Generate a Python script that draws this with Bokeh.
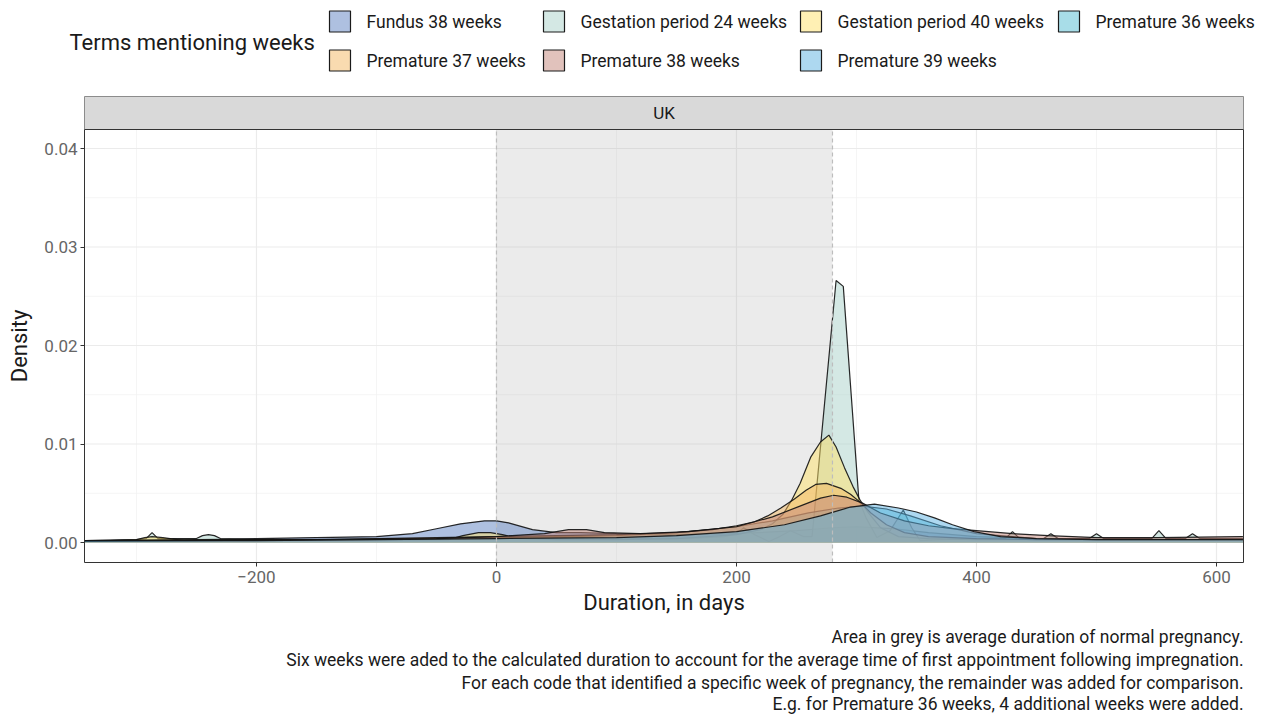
from bokeh.plotting import figure
from bokeh.models import Range1d, FixedTicker, NumeralTickFormatter
from bokeh.embed import file_html
from bokeh.resources import INLINE
from bokeh.core.properties import value

FONT = "Roboto"

# ---------------- data ----------------
legend_labels = ["Fundus 38 weeks", "Gestation period 24 weeks", "Gestation period 40 weeks",
                 "Premature 36 weeks", "Premature 37 weeks", "Premature 38 weeks", "Premature 39 weeks"]
fill_colors = ["#5D81C1", "#A9D1C9", "#FFE169", "#51BBD1", "#F3B761", "#C38579", "#5BB1E1"]

fundus_x = [-343, -300, -250, -200, -150, -100, -70, -50, -30, -10, 0, 10, 30, 50, 70, 100, 150, 200,
            250, 280, 300, 330, 360, 400, 450, 500, 550, 600, 622]
fundus_y = [0.0001, 0.0002, 0.0003, 0.0004, 0.0005, 0.0006, 0.0009, 0.0014, 0.0019, 0.0022, 0.0022,
            0.0020, 0.0013, 0.0010, 0.0010, 0.0009, 0.0008, 0.0009, 0.0012, 0.0015, 0.0016, 0.0014,
            0.0010, 0.0006, 0.0004, 0.0003, 0.0003, 0.0003, 0.0003]

gest24_x = [-343, -300, -292, -287, -282, -265, -250, -245, -240, -235, -230, -200, -150, -100, -50, 0,
            30, 50, 70, 90, 120, 160, 190, 200, 206, 215, 227, 236, 245, 256, 263, 283, 289, 302, 308,
            317, 328, 339, 346, 353, 370, 400, 424, 430, 436, 456, 462, 468, 494, 500, 506, 546, 552,
            558, 574, 580, 586, 622]
gest24_y = [0.0002, 0.0003, 0.0004, 0.0010, 0.0004, 0.0004, 0.0004, 0.0007, 0.0008, 0.0007, 0.0004,
            0.0003, 0.0003, 0.0003, 0.0004, 0.0005, 0.0004, 0.0005, 0.0006, 0.0005, 0.0004, 0.0004,
            0.0006, 0.0009, 0.0015, 0.0008, 0.0001, 0.0006, 0.0012, 0.0006, 0.0006, 0.0266, 0.0260,
            0.0043, 0.0025, 0.0005, 0.0012, 0.0033, 0.0015, 0.0002, 0.0003, 0.0004, 0.0004, 0.0011,
            0.0004, 0.0004, 0.0009, 0.0004, 0.0004, 0.0009, 0.0004, 0.0004, 0.0012, 0.0004, 0.0004,
            0.0009, 0.0004, 0.0004]

gest40_x = [-343, -300, -293, -287, -278, -260, -200, -100, -40, -28, -15, -5, 5, 20, 50, 100, 150, 200,
            220, 230, 239, 246, 253, 262, 270, 277, 283, 290, 297, 303, 310, 320, 335, 360, 400, 450,
            500, 550, 600, 622]
gest40_y = [0.0001, 0.0003, 0.0005, 0.0006, 0.0005, 0.0002, 0.0002, 0.0002, 0.0003, 0.0007, 0.0010,
            0.0010, 0.0008, 0.0004, 0.0003, 0.0003, 0.0004, 0.0008, 0.0013, 0.0019, 0.0029, 0.0043,
            0.0060, 0.0087, 0.0102, 0.0109, 0.0097, 0.0076, 0.0057, 0.0043, 0.0030, 0.0015, 0.0006,
            0.0004, 0.0003, 0.0003, 0.0003, 0.0003, 0.0003, 0.0003]

prem36_x = [-343, -200, -100, 0, 50, 100, 150, 200, 230, 260, 285, 305, 325, 345, 370, 400, 450, 500, 622]
prem36_y = [0.0002, 0.0002, 0.0003, 0.0005, 0.0006, 0.0007, 0.0010, 0.0016, 0.0022, 0.0030, 0.0035,
            0.0037, 0.0034, 0.0027, 0.0017, 0.0009, 0.0004, 0.0003, 0.0003]

prem37_x = [-343, -250, -150, -100, -50, 0, 50, 100, 150, 180, 200, 215, 226, 237, 248, 258, 266, 275,
            287, 295, 303, 312, 325, 340, 360, 400, 450, 500, 550, 622]
prem37_y = [0.0002, 0.0003, 0.0003, 0.0004, 0.0005, 0.0006, 0.0007, 0.0008, 0.0010, 0.0013, 0.0017,
            0.0021, 0.0027, 0.0035, 0.0044, 0.0053, 0.0059, 0.0060, 0.0055, 0.0049, 0.0041, 0.0030,
            0.0018, 0.0010, 0.0006, 0.0004, 0.0003, 0.0003, 0.0003, 0.0003]

prem38_x = [-343, -250, -150, -50, 0, 40, 60, 75, 90, 120, 160, 200, 230, 255, 270, 281, 292, 305, 320,
            340, 360, 380, 400, 430, 460, 500, 550, 622]
prem38_y = [0.0001, 0.0002, 0.0003, 0.0004, 0.0006, 0.0009, 0.0013, 0.0013, 0.0010, 0.0009, 0.0011,
            0.0016, 0.0026, 0.0038, 0.0045, 0.0048, 0.0046, 0.0040, 0.0030, 0.0022, 0.0017, 0.0014,
            0.0012, 0.0009, 0.0007, 0.0005, 0.0005, 0.0006]

prem39_x = [-343, -200, -100, 0, 100, 150, 200, 240, 270, 295, 315, 335, 350, 365, 380, 398, 420, 450,
            500, 622]
prem39_y = [0.0002, 0.0002, 0.0003, 0.0004, 0.0005, 0.0007, 0.0011, 0.0018, 0.0027, 0.0036, 0.0039,
            0.0035, 0.0031, 0.0025, 0.0018, 0.0011, 0.0006, 0.0004, 0.0003, 0.0003]

series_x = [fundus_x, gest24_x, gest40_x, prem36_x, prem37_x, prem38_x, prem39_x]
series_y = [fundus_y, gest24_y, gest40_y, prem36_y, prem37_y, prem38_y, prem39_y]

x_ticks = [-200, 0, 200, 400, 600]
x_minor = [-300, -100, 100, 300, 500]
y_ticks = [0.0, 0.01, 0.02, 0.03, 0.04]
y_minor = [0.005, 0.015, 0.025, 0.035]

x_lim = (-343.3, 622.5)        # plotted data limits (panel)
y_lim = (-0.00203, 0.04193)

grey_start, grey_end = 0, 280
facet_label = "UK"
legend_title = "Terms mentioning weeks"
x_title = "Duration, in days"
y_title = "Density"
caption_lines = [
    "Area in grey is average duration of normal pregnancy.",
    "Six weeks were aded to the calculated duration to account for the average time of first appointment following impregnation.",
    "For each code that identified a specific week of pregnancy, the remainder was added for comparison.",
    "E.g. for Premature 36 weeks, 4 additional weeks were added.",
]

# ---------------- canvas geometry (pixels) ----------------
W, H = 1264, 714
PL, PR, PT, PB = 84, 1243, 129, 562      # panel edges in pixels
ST = 96                                   # facet strip top

# data ranges chosen so the panel occupies PL..PR / PT..PB of a full-canvas frame
xs_per_px = (x_lim[1] - x_lim[0]) / (PR - PL)
ys_per_px = (y_lim[1] - y_lim[0]) / (PB - PT)
x_range = Range1d(x_lim[0] - PL * xs_per_px, x_lim[1] + (W - PR) * xs_per_px)
y_range = Range1d(y_lim[0] - (H - PB) * ys_per_px, y_lim[1] + PT * ys_per_px)

p = figure(width=W, height=H, output_backend="svg", toolbar_location=None,
           x_range=x_range, y_range=y_range, min_border=0)
p.extra_x_ranges = {"px": Range1d(0, W)}
p.extra_y_ranges = {"py": Range1d(H, 0)}
p.background_fill_color = "white"
p.border_fill_color = "white"
p.outline_line_color = None
p.grid.visible = False

# axes drawn at the panel edges
p.xaxis.fixed_location = y_lim[0]
p.yaxis.fixed_location = x_lim[0]
p.xaxis.bounds = x_lim
p.yaxis.bounds = y_lim
p.xaxis.ticker = FixedTicker(ticks=x_ticks)
p.yaxis.ticker = FixedTicker(ticks=y_ticks)
p.yaxis.formatter = NumeralTickFormatter(format="0.00")
for ax in [p.xaxis[0], p.yaxis[0]]:
    ax.axis_line_color = None
    ax.major_tick_line_color = "#333333"
    ax.major_tick_out = 4
    ax.major_tick_in = 0
    ax.minor_tick_line_color = None
    ax.major_label_text_font = FONT
    ax.major_label_text_font_size = "17px"
    ax.major_label_text_color = "#666666"
    ax.axis_label_text_font = FONT
    ax.axis_label_text_font_size = "22px"
    ax.axis_label_text_font_style = "normal"
    ax.axis_label_text_color = "#1A1A1A"
p.xaxis.axis_label = x_title
p.yaxis.axis_label = y_title
p.xaxis.major_label_standoff = 4
p.xaxis.axis_label_standoff = 4
p.yaxis.major_label_standoff = 3
p.yaxis.axis_label_standoff = 9

# grid lines (minor, then major)
p.segment(x0=x_minor, x1=x_minor, y0=[y_lim[0]] * len(x_minor), y1=[y_lim[1]] * len(x_minor),
          line_color="#F3F3F3", line_width=0.8)
p.segment(x0=[x_lim[0]] * len(y_minor), x1=[x_lim[1]] * len(y_minor), y0=y_minor, y1=y_minor,
          line_color="#F3F3F3", line_width=0.8)
p.segment(x0=x_ticks, x1=x_ticks, y0=[y_lim[0]] * len(x_ticks), y1=[y_lim[1]] * len(x_ticks),
          line_color="#EBEBEB", line_width=1.2)
p.segment(x0=[x_lim[0]] * len(y_ticks), x1=[x_lim[1]] * len(y_ticks), y0=y_ticks, y1=y_ticks,
          line_color="#EBEBEB", line_width=1.2)

# grey pregnancy area
p.quad(left=[grey_start], right=[grey_end], bottom=[y_lim[0]], top=[y_lim[1]],
       fill_color="#999999", fill_alpha=0.2, line_color=None)

# densities
for xs, ys, c in zip(series_x, series_y, fill_colors):
    p.varea(x=xs, y1=[0] * len(xs), y2=ys, fill_color=c, fill_alpha=0.5)
    p.line(x=xs, y=ys, line_color="#111111", line_width=1.2, line_alpha=0.9)

# dashed limits of the grey area
p.segment(x0=[grey_start, grey_end], x1=[grey_start, grey_end], y0=[y_lim[0]] * 2, y1=[y_lim[1]] * 2,
          line_color="#BDBDBD", line_dash="4 3", line_width=1.2)

# panel border
p.quad(left=[x_lim[0]], right=[x_lim[1]], bottom=[y_lim[0]], top=[y_lim[1]],
       fill_color=None, line_color="#333333", line_width=1)

# facet strip
p.quad(left=[PL], right=[PR], top=[ST], bottom=[PT], x_range_name="px", y_range_name="py",
       fill_color="#D9D9D9", line_color="#8C8C8C", line_width=1)
p.segment(x0=[PL], x1=[PR], y0=[PT], y1=[PT], x_range_name="px", y_range_name="py",
          line_color="#333333", line_width=1)
p.text(x=[(PL + PR) / 2], y=[(ST + PT) / 2], text=[facet_label], x_range_name="px", y_range_name="py",
       text_font=value(FONT), text_font_size="17px", text_color="#1A1A1A", text_align="center",
       text_baseline="middle")

# legend
p.text(x=[69], y=[42], text=[legend_title], x_range_name="px", y_range_name="py",
       text_font=value(FONT), text_font_size="22px", text_color="#1A1A1A", text_align="left",
       text_baseline="middle")
key_px = [329, 543, 800, 1058, 329, 543, 800]
key_py = [21, 21, 21, 21, 60, 60, 60]
p.rect(x=[k + 10.5 for k in key_px], y=key_py, width=21, height=21, x_range_name="px",
       y_range_name="py", fill_color=fill_colors, fill_alpha=0.5, line_color="#1A1A1A", line_width=1.2)
p.text(x=[k + 37 for k in key_px], y=key_py, text=legend_labels, x_range_name="px", y_range_name="py",
       text_font=value(FONT), text_font_size="17.5px", text_color="#1A1A1A", text_align="left",
       text_baseline="middle")

# caption
cap_py = [636, 659, 682, 703]
p.text(x=[PR] * len(caption_lines), y=cap_py, text=caption_lines, x_range_name="px", y_range_name="py",
       text_font=value(FONT), text_font_size="17.5px", text_color="#1A1A1A", text_align="right",
       text_baseline="middle")

open("out.html", "w").write(file_html(p, INLINE))
